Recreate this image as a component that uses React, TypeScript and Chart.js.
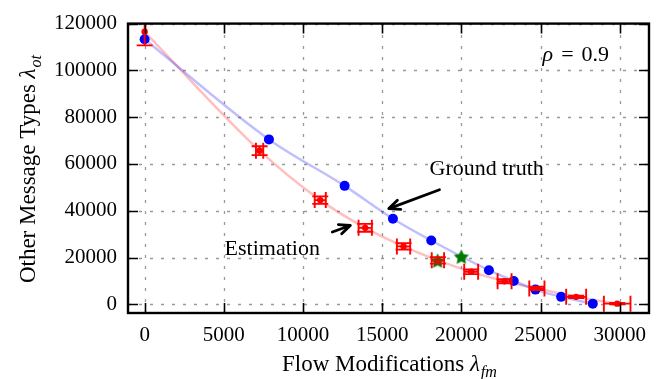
import React, { useEffect, useRef } from 'react';
import { Chart, registerables } from 'chart.js';

Chart.register(...registerables);

// ---- data ----
const xTicks = [0, 5000, 10000, 15000, 20000, 25000, 30000];
const yTicks = [0, 20000, 40000, 60000, 80000, 100000, 120000];

const truthX = [0, 7850, 12630, 15680, 18100, 21740, 23310, 24680, 26300, 28300];
const truthY = [113300, 70500, 50650, 36600, 27300, 14600, 10000, 6300, 3200, 300];

const estX = [0, 7260, 11090, 13930, 16350, 18520, 20620, 22730, 24770, 27250, 29840];
const estY = [116500, 65700, 44550, 32700, 24770, 18800, 13900, 9900, 6800, 3200, 300];
const estXErr = [0, 230, 350, 420, 420, 390, 440, 440, 480, 630, 840];
const estYErr = [5800, 1900, 1600, 1700, 1400, 1400, 1000, 900, 700, 500, 300];

const markX = [18500, 20000];
const markY = [18800, 20500];

const SERIF = '"Liberation Serif", "DejaVu Serif", "Times New Roman", serif';
const FS = 21;
const AFS = 22;

type Part = { t: string; italic?: boolean; sub?: boolean; gap?: number };

function fontFor(p: Part, size: number) {
  const s = p.sub ? size * 0.7 : size;
  return `${p.italic ? 'italic ' : ''}${s}px ${SERIF}`;
}

function drawParts(ctx: CanvasRenderingContext2D, parts: Part[], x: number, y: number, size: number, align: 'left' | 'center') {
  ctx.textAlign = 'left';
  ctx.textBaseline = 'alphabetic';
  let w = 0;
  for (const p of parts) {
    ctx.font = fontFor(p, size);
    w += (p.gap || 0) + ctx.measureText(p.t).width;
  }
  let cx = align === 'center' ? x - w / 2 : x;
  for (const p of parts) {
    ctx.font = fontFor(p, size);
    cx += p.gap || 0;
    ctx.fillText(p.t, cx, y + (p.sub ? size * 0.28 : 0));
    cx += ctx.measureText(p.t).width;
  }
}

function drawArrow(ctx: CanvasRenderingContext2D, x1: number, y1: number, x2: number, y2: number) {
  const ang = Math.atan2(y2 - y1, x2 - x1);
  const hl = 12;
  const ha = 0.42;
  ctx.save();
  ctx.strokeStyle = '#000';
  ctx.lineWidth = 2.8;
  ctx.lineCap = 'round';
  ctx.lineJoin = 'round';
  ctx.beginPath();
  ctx.moveTo(x1, y1);
  ctx.lineTo(x2, y2);
  ctx.moveTo(x2 - hl * Math.cos(ang - ha), y2 - hl * Math.sin(ang - ha));
  ctx.lineTo(x2, y2);
  ctx.lineTo(x2 - hl * Math.cos(ang + ha), y2 - hl * Math.sin(ang + ha));
  ctx.stroke();
  ctx.restore();
}

function starCanvas(r: number, color: string) {
  const c = document.createElement('canvas');
  const s = Math.ceil(r * 2 + 2);
  c.width = s;
  c.height = s;
  const g = c.getContext('2d')!;
  g.beginPath();
  for (let i = 0; i < 10; i++) {
    const a = -Math.PI / 2 + (i * Math.PI) / 5;
    const rr = i % 2 === 0 ? r : r * 0.5;
    g.lineTo(s / 2 + rr * Math.cos(a), s / 2 + 1 + rr * Math.sin(a));
  }
  g.closePath();
  g.fillStyle = color;
  g.fill();
  return c;
}

const decor = {
  id: 'decor',
  beforeDatasetsDraw(chart: any) {
    const { ctx, chartArea: a, scales } = chart;
    const xs = scales.x;
    const ys = scales.y;
    ctx.save();
    ctx.strokeStyle = '#999999';
    ctx.lineWidth = 1.3;
    ctx.setLineDash([3, 8]);
    for (const v of xTicks) {
      const px = Math.round(xs.getPixelForValue(v)) + 0.5;
      ctx.beginPath();
      ctx.moveTo(px, a.bottom);
      ctx.lineTo(px, a.top);
      ctx.stroke();
    }
    for (const v of yTicks) {
      const py = Math.round(ys.getPixelForValue(v)) + 0.5;
      ctx.beginPath();
      ctx.moveTo(a.left, py);
      ctx.lineTo(a.right, py);
      ctx.stroke();
    }
    ctx.restore();
  },
  afterDatasetsDraw(chart: any) {
    const { ctx, chartArea: a, scales } = chart;
    const xs = scales.x;
    const ys = scales.y;
    // error bars
    ctx.save();
    ctx.beginPath();
    ctx.rect(a.left, a.top, a.right - a.left, a.bottom - a.top);
    ctx.clip();
    ctx.strokeStyle = '#ff0000';
    ctx.lineWidth = 1.9;
    const cap = 8;
    for (let i = 0; i < estX.length; i++) {
      const px = xs.getPixelForValue(estX[i]);
      const py = ys.getPixelForValue(estY[i]);
      if (estYErr[i] > 0) {
        const y1 = ys.getPixelForValue(estY[i] - estYErr[i]);
        const y2 = ys.getPixelForValue(estY[i] + estYErr[i]);
        ctx.beginPath();
        ctx.moveTo(px, y1);
        ctx.lineTo(px, y2);
        ctx.moveTo(px - cap, y1);
        ctx.lineTo(px + cap, y1);
        ctx.moveTo(px - cap, y2);
        ctx.lineTo(px + cap, y2);
        ctx.stroke();
      }
      if (estXErr[i] > 0) {
        const x1 = xs.getPixelForValue(estX[i] - estXErr[i]);
        const x2 = xs.getPixelForValue(estX[i] + estXErr[i]);
        ctx.beginPath();
        ctx.moveTo(x1, py);
        ctx.lineTo(x2, py);
        ctx.moveTo(x1, py - cap);
        ctx.lineTo(x1, py + cap);
        ctx.moveTo(x2, py - cap);
        ctx.lineTo(x2, py + cap);
        ctx.stroke();
      }
    }
    ctx.restore();

    // frame and ticks
    ctx.save();
    ctx.strokeStyle = '#000';
    ctx.lineWidth = 1.6;
    const tl = 10;
    ctx.beginPath();
    for (const v of xTicks) {
      const px = Math.round(xs.getPixelForValue(v)) + 0.5;
      ctx.moveTo(px, a.bottom);
      ctx.lineTo(px, a.bottom - tl);
      ctx.moveTo(px, a.top);
      ctx.lineTo(px, a.top + tl);
    }
    for (const v of yTicks) {
      const py = Math.round(ys.getPixelForValue(v)) + 0.5;
      ctx.moveTo(a.left, py);
      ctx.lineTo(a.left + tl, py);
      ctx.moveTo(a.right, py);
      ctx.lineTo(a.right - tl, py);
    }
    ctx.stroke();
    ctx.lineWidth = 2.4;
    ctx.strokeRect(a.left, a.top, a.right - a.left, a.bottom - a.top);
    ctx.restore();

    // annotations
    ctx.save();
    ctx.fillStyle = '#000';
    drawParts(ctx, [{ t: 'Ground truth' }], xs.getPixelForValue(17990), ys.getPixelForValue(55240), AFS, 'left');
    drawParts(ctx, [{ t: 'Estimation' }], xs.getPixelForValue(5050), ys.getPixelForValue(21300), AFS, 'left');
    drawParts(
      ctx,
      [{ t: 'ρ', italic: true }, { t: '=', gap: 8 }, { t: '0.9', gap: 8 }],
      xs.getPixelForValue(25130),
      ys.getPixelForValue(103970),
      AFS,
      'left'
    );
    drawArrow(ctx, xs.getPixelForValue(18620), ys.getPixelForValue(48980), xs.getPixelForValue(15420), ys.getPixelForValue(40920));
    drawArrow(ctx, xs.getPixelForValue(11850), ys.getPixelForValue(30900), xs.getPixelForValue(12990), ys.getPixelForValue(33700));
    ctx.restore();
  },
  afterDraw(chart: any) {
    const { ctx, chartArea: a } = chart;
    ctx.save();
    ctx.fillStyle = '#000';
    drawParts(
      ctx,
      [{ t: 'Flow Modifications ' }, { t: 'λ', italic: true }, { t: 'fm', italic: true, sub: true, gap: 1 }],
      (a.left + a.right) / 2 + 1,
      371,
      23,
      'center'
    );
    ctx.translate(35, 169);
    ctx.rotate(-Math.PI / 2);
    drawParts(
      ctx,
      [{ t: 'Other Message Types ' }, { t: 'λ', italic: true }, { t: 'ot', italic: true, sub: true, gap: 1 }],
      0,
      0,
      23,
      'center'
    );
    ctx.restore();
  },
};

export default function App() {
  const ref = useRef<HTMLCanvasElement>(null);
  useEffect(() => {
    if (!ref.current) return;
    const star = starCanvas(8, '#007a00');
    const chart = new Chart(ref.current, {
      type: 'scatter',
      data: {
        datasets: [
          {
            label: 'Ground truth',
            data: truthX.map((x, i) => ({ x, y: truthY[i] })),
            showLine: true,
            borderColor: 'rgba(0,0,255,0.25)',
            borderWidth: 2.5,
            cubicInterpolationMode: 'monotone',
            pointRadius: 5,
            pointBackgroundColor: '#0000ff',
            pointBorderWidth: 0,
            order: 2,
          },
          {
            label: 'Marked',
            data: markX.map((x, i) => ({ x, y: markY[i] })),
            showLine: false,
            pointStyle: star as any,
            pointRadius: 8,
            order: 1,
          },
          {
            label: 'Estimation',
            data: estX.map((x, i) => ({ x, y: estY[i] })),
            showLine: true,
            borderColor: 'rgba(255,0,0,0.25)',
            borderWidth: 2.5,
            cubicInterpolationMode: 'monotone',
            pointRadius: 3.2,
            pointBackgroundColor: '#ff0000',
            pointBorderWidth: 0,
            order: 3,
          },
        ],
      },
      options: {
        responsive: false,
        maintainAspectRatio: false,
        animation: false,
        events: [],
        layout: { padding: { top: 16, right: 13, left: 0, bottom: 0 } },
        plugins: { legend: { display: false }, tooltip: { enabled: false } },
        scales: {
          x: {
            type: 'linear',
            min: -1050,
            max: 31850,
            afterBuildTicks: (axis: any) => {
              axis.ticks = xTicks.map((v) => ({ value: v }));
            },
            afterFit: (s: any) => {
              s.height = 66;
            },
            grid: { display: false, drawTicks: false },
            border: { display: false },
            ticks: {
              color: '#000',
              font: { family: SERIF, size: FS },
              padding: 10,
              maxRotation: 0,
              autoSkip: false,
              callback: (v: any) => String(v),
            },
          },
          y: {
            type: 'linear',
            min: -3700,
            max: 120000,
            afterBuildTicks: (axis: any) => {
              axis.ticks = yTicks.map((v) => ({ value: v }));
            },
            afterFit: (s: any) => {
              s.width = 128;
            },
            grid: { display: false, drawTicks: false },
            border: { display: false },
            ticks: {
              color: '#000',
              font: { family: SERIF, size: FS },
              padding: 11,
              autoSkip: false,
              callback: (v: any) => String(v),
            },
          },
        },
      },
      plugins: [decor],
    });
    return () => chart.destroy();
  }, []);
  return (
    <div style={{ position: 'absolute', left: 0, top: 0, width: 662, height: 379, background: '#fff' }}>
      <canvas ref={ref} width={662} height={379} style={{ display: 'block' }} />
    </div>
  );
}
